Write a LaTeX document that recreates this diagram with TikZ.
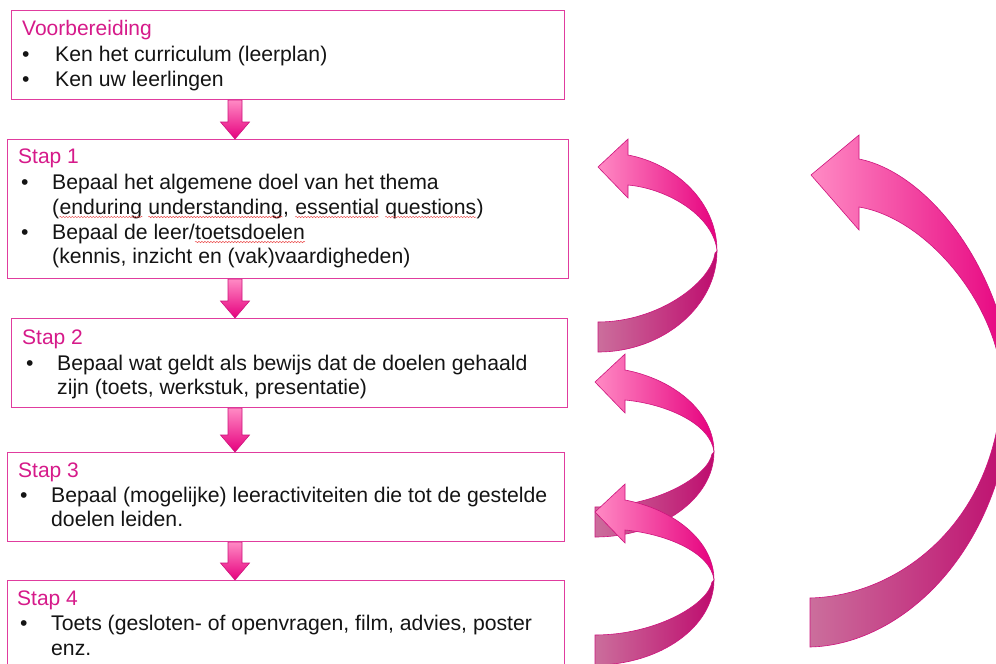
\documentclass[tikz,border=0pt]{standalone}
\usepackage{fontspec}
\setmainfont{Liberation Sans}
\usetikzlibrary{calc,decorations.pathmorphing}
\definecolor{boxpink}{RGB}{224,60,158}
\definecolor{titlepink}{RGB}{214,26,138}
\definecolor{txt}{RGB}{20,20,20}
\definecolor{alight}{RGB}{255,138,196}
\definecolor{adark}{RGB}{230,0,126}
\definecolor{blight}{RGB}{203,110,156}
\definecolor{bdark}{RGB}{190,12,110}
\definecolor{aedge}{RGB}{205,20,125}
\definecolor{spell}{RGB}{235,70,70}
\newcommand\pinkdown[2]{%
  \shade[top color=alight, bottom color=adark, draw=aedge, line width=0.6pt]
   let \p1=(#1), \p2=(#2) in
   (\x1-7pt,\y1) -- (\x1+7pt,\y1) -- (\x1+7pt,\y2+17pt) -- (\x1+14.5pt,\y2+17pt)
   -- (\x1,\y2) -- (\x1-14.5pt,\y2+17pt) -- (\x1-7pt,\y2+17pt) -- cycle;}
\newcommand\curl[4]{% tip x, tip y, R, T
  \begin{scope}[shift={(#1,#2)}]
  \shade[left color=blight, right color=bdark, draw=aedge, line width=0.6pt]
   (119,#3) .. controls (119,{#3+0.55*(#4-#3)}) and (65,#4) .. (0,#4)
   -- (0,{#4-30}) .. controls (60,{#4-30}) and (113,{#3+0.45*(#4-30-#3)}) .. (117,{#3+2}) -- cycle;
  \shade[left color=alight, right color=adark, draw=aedge, line width=0.6pt]
   (0,0) -- (30,-28) -- (30,-12) .. controls (78,-3) and (119,{0.42*#3}) .. (119,#3)
   .. controls (116,{0.6*#3}) and (72,22) .. (30,18) -- (30,31) -- cycle;
  \end{scope}}
\newcommand\squig[1]{%
  \draw[spell, line width=0.45pt, decorate, decoration={snake, amplitude=0.7pt, segment length=3pt}]
   ([yshift=-3pt]#1.base west) -- ([yshift=-3pt]#1.base east);}
\tikzset{
  stepbox/.style={draw=boxpink, line width=1.1pt, fill=white, inner sep=0pt, anchor=north west},
  ttl/.style={anchor=base west, inner sep=0pt, text=titlepink, font=\fontsize{21}{25}\selectfont},
  btxt/.style={anchor=base west, inner sep=0pt, text=txt, font=\fontsize{21.2}{25}\selectfont},
}
\begin{document}
\begin{tikzpicture}[x=1pt,y=-1pt]
\clip (0,0) rectangle (996,664);
\fill[white] (0,0) rectangle (996,664);
\coordinate (ax) at (235,0);
% boxes
\node[stepbox, minimum width=553pt, minimum height=89pt] (b0) at (11,10) {};
\node[stepbox, minimum width=561pt, minimum height=139pt] (b1) at (7,139) {};
\node[stepbox, minimum width=556pt, minimum height=89pt] (b2) at (11,318) {};
\node[stepbox, minimum width=557pt, minimum height=89pt] (b3) at (7,452) {};
\node[stepbox, minimum width=557pt, minimum height=110pt] (b4) at (7,580) {};
% box 0
\node[ttl] (t0) at (22,35) {Voorbereiding};
\node[btxt] (u0a) at (22,61.5) {•};
\node[btxt] (l0a) at (55,61.5) {Ken het curriculum (leerplan)};
\node[btxt] (u0b) at (22,86) {•};
\node[btxt] (l0b) at (55,86) {Ken uw leerlingen};
% box 1
\node[ttl] (t1) at (18,163.5) {Stap 1};
\node[btxt] (u1a) at (21,189.5) {•};
\node[btxt] (l1a) at (52,189.5) {Bepaal het algemene doel van het thema};
\node[btxt] (l1b) at (52,214) {(};
\node[btxt] (w1) at (l1b.base east) {enduring};
\node[btxt] (w2) at ([xshift=5.9pt]w1.base east) {understanding};
\node[btxt] (c2) at (w2.base east) {,};
\node[btxt] (w3) at ([xshift=5.9pt]c2.base east) {essential};
\node[btxt] (w4) at ([xshift=5.9pt]w3.base east) {questions};
\node[btxt] (c4) at (w4.base east) {)};
\node[btxt] (u1c) at (21,239) {•};
\node[btxt] (l1c) at (52,239) {Bepaal de leer/};
\node[btxt] (w5) at (l1c.base east) {toetsdoelen};
\node[btxt] (l1d) at (52,263.5) {(kennis, inzicht en (vak)vaardigheden)};
\squig{w1}\squig{w2}\squig{w3}\squig{w4}\squig{w5}
% box 2
\node[ttl] (t2) at (22,344.5) {Stap 2};
\node[btxt] (u2a) at (26,370) {•};
\node[btxt] (l2a) at (57,370) {Bepaal wat geldt als bewijs dat de doelen gehaald};
\node[btxt] (l2b) at (57,394.5) {zijn (toets, werkstuk, presentatie)};
% box 3
\node[ttl] (t3) at (18,477) {Stap 3};
\node[btxt] (u3a) at (20,502) {•};
\node[btxt] (l3a) at (51,502) {Bepaal (mogelijke) leeractiviteiten die tot de gestelde};
\node[btxt] (l3b) at (51,526.5) {doelen leiden.};
% box 4
\node[ttl] (t4) at (17,605.5) {Stap 4};
\node[btxt] (u4a) at (20,630.5) {•};
\node[btxt] (l4a) at (51,630.5) {Toets (gesloten- of openvragen, film, advies, poster};
\node[btxt] (l4b) at (51,655) {enz.};
% down arrows
\pinkdown{b0.south -| ax}{b1.north -| ax}
\pinkdown{b1.south -| ax}{b2.north -| ax}
\pinkdown{b2.south -| ax}{b3.north -| ax}
\pinkdown{b3.south -| ax}{b4.north -| ax}
% small curled arrows
\curl{598}{167}{84}{185}
\curl{595}{382}{70}{155}
\curl{595}{512}{68}{153}
% big curved arrow
\shade[left color=blight, right color=bdark, draw=aedge, line width=0.6pt]
  (1002,380) .. controls (1000,520) and (900,596) .. (810,598)
  -- (810,647) .. controls (905,645) and (1010,545) .. (1013,380) -- cycle;
\shade[left color=alight, right color=adark, draw=aedge, line width=0.6pt]
  (811,175) -- (859,135) -- (859,159) .. controls (925,172) and (1000,262) .. (1013,380)
  -- (1002,380) .. controls (995,300) and (925,218) .. (859,207) -- (859,230) -- cycle;
\end{tikzpicture}
\end{document}
